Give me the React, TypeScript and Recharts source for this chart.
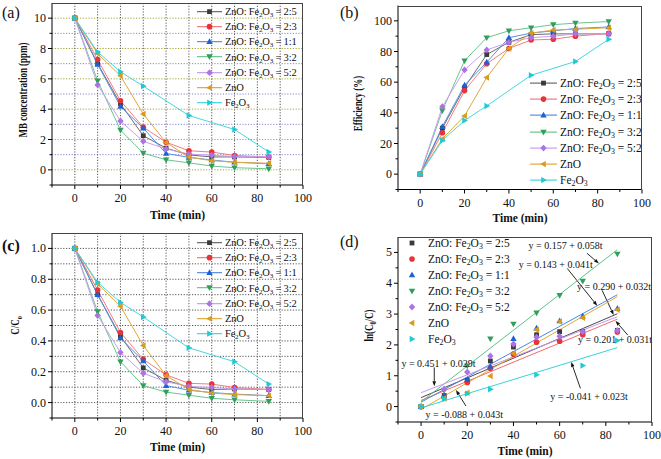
import React from 'react'
import {
  LineChart,
  Line,
  ScatterChart,
  Scatter,
  XAxis,
  YAxis,
  CartesianGrid,
  ReferenceLine,
  ReferenceDot,
  Legend,
} from 'recharts'

const FONT = '"Liberation Serif", "Times New Roman", Times, serif'

const times = [0, 10, 20, 30, 40, 50, 60, 70, 85]
const ratios = ['2:5', '2:3', '1:1', '3:2', '5:2']
const markerColors = ['#3b3b3b', '#ea3238', '#1d62d4', '#2f9f5c', '#ad72e3', '#d99b1f', '#1fcad5']
const lineColors = ['#6a6a6a', '#f27c80', '#5a8fe2', '#6cc58f', '#c7a0ee', '#dfa83a', '#45d7df']
const markerShapes = ['square', 'circle', 'up', 'down', 'diamond', 'left', 'right']

// (a) MB concentration (ppm)
const mbConc: (number | null)[][] = [
  [10, 7.0, 4.35, 2.25, 1.43, 0.98, 0.85, 0.85, 0.82],
  [10, 7.27, 4.55, 2.81, 1.82, 1.26, 1.17, 0.95, 0.84],
  [10, 6.95, 4.18, 2.75, 1.08, 0.82, 0.65, 0.5, 0.4],
  [10, 5.87, 2.62, 1.1, 0.66, 0.46, 0.25, 0.14, 0.07],
  [10, 5.6, 3.22, 1.88, 1.38, 1.04, 0.96, 0.88, 0.85],
  [10, 7.66, 6.2, 3.68, 1.8, 0.84, 0.6, 0.5, 0.43],
  [10, 7.77, 6.47, 5.52, null, 3.58, null, 2.66, 1.18],
]

// (b) efficiency (%)
const efficiency: (number | null)[][] = [
  [0, 30, 56.5, 78, 86, 91, 91.5, 91.5, 91.5],
  [0, 27, 54.5, 72, 82, 87.5, 88, 90, 91.8],
  [0, 31, 58, 73, 89, 92, 93.5, 95, 96],
  [0, 41.5, 74, 89, 93.5, 95.5, 97.5, 98.5, 99.5],
  [0, 44, 68, 81, 86, 89, 90, 91.5, 91.5],
  [0, 23, 38, 63, 82, 92, 94, 94.5, 95.5],
  [0, 22, 35, 44.5, null, 64.5, null, 73.5, 88],
]

// (c) C/C0
const ratio: (number | null)[][] = [
  [1, 0.7, 0.43, 0.225, 0.145, 0.1, 0.085, 0.088, 0.085],
  [1, 0.73, 0.455, 0.28, 0.18, 0.125, 0.12, 0.098, 0.085],
  [1, 0.7, 0.42, 0.27, 0.11, 0.08, 0.065, 0.055, 0.045],
  [1, 0.59, 0.265, 0.11, 0.068, 0.048, 0.028, 0.018, 0.008],
  [1, 0.565, 0.325, 0.19, 0.135, 0.105, 0.098, 0.088, 0.085],
  [1, 0.77, 0.625, 0.37, 0.175, 0.085, 0.062, 0.052, 0.045],
  [1, 0.78, 0.65, 0.555, null, 0.355, null, 0.265, 0.12],
]

// (d) ln(C0/C) points and linear fits (value at t=0 and t=85)
const lnRatio: (number | null)[][] = [
  [0, 0.36, 0.85, 1.48, 1.93, 2.33, 2.43, 2.43, 2.47],
  [0, 0.31, 0.78, 1.24, 1.7, 2.09, 2.12, 2.33, 2.42],
  [0, 0.36, 0.87, 1.3, 2.2, 2.54, 2.78, 2.93, 3.18],
  [0, 0.53, 1.32, 2.2, 2.68, 3.04, 3.61, 4.07, 4.95],
  [0, 0.57, 1.12, 1.64, 2.03, 2.25, 2.28, 2.43, 2.47],
  [0, 0.26, 0.45, 0.99, 1.72, 2.49, 2.76, 2.88, 3.14],
  [0, 0.25, 0.42, 0.56, null, 1.03, null, 1.33, 2.14],
]
const fitTimes = [0, 85]
const fitStart = [0.29, 0.201, 0.143, 0.157, 0.451, -0.088, -0.041]
const fitEnd = [3.01, 2.836, 3.628, 5.087, 2.916, 3.567, 1.914]
const fitColors = ['#4a4a4a', '#f26a6e', '#4d86e4', '#5cc486', '#c39aee', '#e3a834', '#38d3dc']
const fitNotes = [
  'y = 0.290 + 0.032t',
  'y = 0.201 + 0.031t',
  'y = 0.143 + 0.041t',
  'y = 0.157 + 0.058t',
  'y = 0.451 + 0.029t',
  'y = -0.088 + 0.043t',
  'y = -0.041 + 0.023t',
]
// text centre and arrow (from -> tip), in data units of panel (d)
const noteLayout = [
  { tx: 83.6, ty: 3.91, x1: 78.4, y1: 3.77, x2: 83.4, y2: 2.97 },
  { tx: 84.0, ty: 2.18, x1: 89.5, y1: 2.32, x2: 84.2, y2: 2.78 },
  { tx: 58.3, ty: 4.62, x1: 63.3, y1: 4.48, x2: 76.3, y2: 3.27 },
  { tx: 62.6, ty: 5.22, x1: 71.9, y1: 4.97, x2: 77, y2: 4.64 },
  { tx: 7.5, ty: 1.4, x1: 5.7, y1: 1.27, x2: 5.7, y2: 0.66 },
  { tx: 18.7, ty: -0.25, x1: 19.4, y1: 0.02, x2: 15.1, y2: 0.54 },
  { tx: 72.7, ty: 0.34, x1: 69, y1: 0.59, x2: 65, y2: 1.45 },
]

const xTicks = [-10, 0, 10, 20, 30, 40, 50, 60, 70, 80, 90, 100]
const xLabels = [0, 20, 40, 60, 80, 100]
const xDomain: [number, number] = [-10, 100]
const gridX = [0, 10, 20, 30, 40, 50, 60, 70, 80, 90]

const isIn = (list: number[], v: number) => list.some((l) => Math.abs(l - v) < 1e-6)

function Marker({ cx, cy, shape, fill }: { cx: number; cy: number; shape: string; fill: string }) {
  switch (shape) {
    case 'square':
      return <rect x={cx - 2.4} y={cy - 2.4} width={4.8} height={4.8} fill={fill} />
    case 'circle':
      return <circle cx={cx} cy={cy} r={2.8} fill={fill} />
    case 'up':
      return <polygon points={`${cx},${cy - 3.4} ${cx + 3.2},${cy + 2.3} ${cx - 3.2},${cy + 2.3}`} fill={fill} />
    case 'down':
      return <polygon points={`${cx},${cy + 3.4} ${cx + 3.2},${cy - 2.3} ${cx - 3.2},${cy - 2.3}`} fill={fill} />
    case 'diamond':
      return <polygon points={`${cx},${cy - 3.4} ${cx + 3.2},${cy} ${cx},${cy + 3.4} ${cx - 3.2},${cy}`} fill={fill} />
    case 'left':
      return <polygon points={`${cx - 3.4},${cy} ${cx + 2.3},${cy - 3.2} ${cx + 2.3},${cy + 3.2}`} fill={fill} />
    default:
      return <polygon points={`${cx + 3.4},${cy} ${cx - 2.3},${cy - 3.2} ${cx - 2.3},${cy + 3.2}`} fill={fill} />
  }
}

const Sub = ({ children }: { children: React.ReactNode }) => (
  <span style={{ fontSize: '0.68em', verticalAlign: '-0.3em', lineHeight: 0 }}>{children}</span>
)

function seriesText(i: number) {
  if (i < ratios.length)
    return (
      <>
        ZnO: Fe<Sub>2</Sub>O<Sub>3</Sub> = {ratios[i]}
      </>
    )
  if (i === 5) return <>ZnO</>
  return (
    <>
      Fe<Sub>2</Sub>O<Sub>3</Sub>
    </>
  )
}

interface LegendCfg {
  left: number
  top: number
  rowH: number
  fontSize: number
  spacing: number
  sampleW: number
  gap: number
  withLine: boolean
}

function LegendBox({ cfg }: { cfg: LegendCfg }) {
  return (
    <div style={{ fontFamily: FONT, fontSize: cfg.fontSize, letterSpacing: cfg.spacing, color: '#111' }}>
      {markerColors.map((c, i) => (
        <div key={i} style={{ display: 'flex', alignItems: 'center', height: cfg.rowH, whiteSpace: 'nowrap' }}>
          <svg width={cfg.sampleW} height={cfg.rowH} style={{ flex: 'none' }}>
            {cfg.withLine && (
              <line x1={0} x2={cfg.sampleW} y1={cfg.rowH / 2} y2={cfg.rowH / 2} stroke={lineColors[i]} strokeWidth={1.2} />
            )}
            <Marker cx={cfg.sampleW / 2} cy={cfg.rowH / 2} shape={markerShapes[i]} fill={c} />
          </svg>
          <span style={{ marginLeft: cfg.gap, fontFamily: FONT }}>{seriesText(i)}</span>
        </div>
      ))}
    </div>
  )
}

function xTick(p: any) {
  const v = p.payload.value
  const major = isIn(xLabels, v)
  return (
    <g>
      <line x1={p.x} x2={p.x} y1={p.y} y2={p.y + (major ? 4 : 2.5)} stroke="#000" strokeWidth={1} />
      {major && (
        <text x={p.x} y={p.y + 17} textAnchor="middle" fontSize={12} fontFamily={FONT} fill="#111">
          {v}
        </text>
      )}
    </g>
  )
}

function makeYTick(labels: number[], fmt: (v: number) => string) {
  return (p: any) => {
    const v = p.payload.value
    const major = isIn(labels, v)
    return (
      <g>
        <line x1={p.x} x2={p.x - (major ? 4 : 2.5)} y1={p.y} y2={p.y} stroke="#000" strokeWidth={1} />
        {major && (
          <text x={p.x - 6} y={p.y + 4} textAnchor="end" fontSize={12} fontFamily={FONT} fill="#111">
            {fmt(v)}
          </text>
        )}
      </g>
    )
  }
}

interface PanelCfg {
  left: number
  top: number
  width: number
  height: number
  mTop: number
  mRight: number
  yWidth: number
  xHeight: number
  yDomain: [number, number]
  yTicks: number[]
  yLabels: number[]
  fmt: (v: number) => string
  tag: string
  tagLeft: number
  tagTop: number
  tagBold?: boolean
  xTitleY: number
  yTitleX: number
  yTitleDy: number
  yTitle: React.ReactNode
  legend: LegendCfg
}

// panel tag, axis titles and the dark grey top / right edges of the plot box
function Frame({ cfg }: { cfg: PanelCfg }) {
  const plotH = cfg.height - cfg.mTop - cfg.xHeight
  const plotW = cfg.width - cfg.yWidth - cfg.mRight
  const cy = cfg.mTop + plotH / 2 + cfg.yTitleDy
  const top = Math.round(cfg.mTop)
  const right = Math.round(cfg.yWidth + plotW)
  return (
    <>
      <div
        style={{
          position: 'absolute',
          left: cfg.yWidth,
          top: top,
          width: right - cfg.yWidth,
          height: 1,
          background: '#444',
          pointerEvents: 'none',
        }}
      />
      <div
        style={{
          position: 'absolute',
          left: right - 1,
          top: top,
          width: 1,
          height: plotH,
          background: '#444',
          pointerEvents: 'none',
        }}
      />
      <div
        style={{
          position: 'absolute',
          left: cfg.tagLeft,
          top: cfg.tagTop,
          fontFamily: FONT,
          fontSize: 16,
          lineHeight: '16px',
          fontWeight: cfg.tagBold ? 'bold' : 'normal',
          color: '#111',
        }}
      >
        {cfg.tag}
      </div>
      <svg
        width={cfg.width}
        height={cfg.height}
        style={{ position: 'absolute', left: 0, top: 0, pointerEvents: 'none' }}
      >
        <text
          x={cfg.yWidth + plotW / 2}
          y={cfg.xTitleY}
          textAnchor="middle"
          fontWeight="bold"
          fontSize={11.5}
          fontFamily={FONT}
          fill="#111"
        >
          Time (min)
        </text>
        <text
          transform={`translate(${cfg.yTitleX},${cy}) rotate(-90) scale(0.78,1)`}
          textAnchor="middle"
          fontWeight="bold"
          fontSize={11.5}
          fontFamily={FONT}
          fill="#111"
        >
          {cfg.yTitle}
        </text>
      </svg>
    </>
  )
}

function buildRows(values: (number | null)[][]) {
  return times.map((t, i) => {
    const row: Record<string, number | null> = { t }
    values.forEach((arr, s) => {
      row[`s${s}`] = arr[i]
    })
    return row
  })
}

interface GridCfg {
  yValues: number[]
  colorOf: (index: number) => string
}

function LinePanel({ cfg, values, grid }: { cfg: PanelCfg; values: (number | null)[][]; grid?: GridCfg }) {
  const rows = buildRows(values)
  const lg = cfg.legend
  return (
    <div style={{ position: 'absolute', left: cfg.left, top: cfg.top, width: cfg.width, height: cfg.height }}>
      <LineChart
        width={cfg.width}
        height={cfg.height}
        data={rows}
        margin={{ top: cfg.mTop, right: cfg.mRight, bottom: 0, left: 0 }}
      >
        {grid && (
          <CartesianGrid
            verticalValues={gridX}
            horizontalValues={grid.yValues}
            vertical={(p: any) => (
              <line
                key={p.key}
                x1={p.x1}
                x2={p.x2}
                y1={p.y1}
                y2={p.y2}
                stroke="#555"
                strokeWidth={1}
                strokeDasharray="1.2 1.6"
              />
            )}
            horizontal={(p: any) => (
              <line
                key={p.key}
                x1={p.x1}
                x2={p.x2}
                y1={p.y1}
                y2={p.y2}
                stroke={grid.colorOf(p.index)}
                strokeWidth={1}
                strokeDasharray="1.2 1.6"
              />
            )}
          />
        )}
        <XAxis
          type="number"
          dataKey="t"
          domain={xDomain}
          ticks={xTicks}
          interval={0}
          allowDataOverflow
          height={cfg.xHeight}
          tickSize={0}
          tickMargin={0}
          tickLine={false}
          tick={xTick}
          axisLine={{ stroke: '#000' }}
        />
        <YAxis
          type="number"
          domain={cfg.yDomain}
          ticks={cfg.yTicks}
          interval={0}
          allowDataOverflow
          width={cfg.yWidth}
          tickSize={0}
          tickMargin={0}
          tickLine={false}
          tick={makeYTick(cfg.yLabels, cfg.fmt)}
          axisLine={{ stroke: '#000' }}
        />
        {values.map((_, s) => (
          <Line
            key={s}
            type="linear"
            dataKey={`s${s}`}
            stroke={lineColors[s]}
            strokeWidth={1}
            connectNulls
            isAnimationActive={false}
            activeDot={false}
            dot={(p: any) =>
              p.cx == null || p.cy == null || p.value == null ? (
                <g key={`d${s}-${p.index}`} />
              ) : (
                <Marker key={`d${s}-${p.index}`} cx={p.cx} cy={p.cy} shape={markerShapes[s]} fill={markerColors[s]} />
              )
            }
          />
        ))}
        <Legend
          layout="vertical"
          align="center"
          verticalAlign="middle"
          wrapperStyle={{ left: lg.left, top: lg.top, width: 140, height: 'auto' }}
          content={() => <LegendBox cfg={lg} />}
        />
      </LineChart>
      <Frame cfg={cfg} />
    </div>
  )
}

const fmtInt = (v: number) => String(v)

const cfgA: PanelCfg = {
  left: 0,
  top: 0,
  width: 330,
  height: 229,
  mTop: 3,
  mRight: 27,
  yWidth: 52,
  xHeight: 44,
  yDomain: [-1, 11],
  yTicks: [-1, 0, 1, 2, 3, 4, 5, 6, 7, 8, 9, 10],
  yLabels: [0, 2, 4, 6, 8, 10],
  fmt: fmtInt,
  tag: '(a)',
  tagLeft: 2,
  tagTop: 5,
  xTitleY: 219,
  yTitleX: 27,
  yTitleDy: -4,
  yTitle: 'MB concentration (ppm)',
  legend: { left: 197, top: 3.5, rowH: 15.3, fontSize: 10.5, spacing: -0.2, sampleW: 25, gap: 3, withLine: true },
}

const cfgB: PanelCfg = {
  left: 330,
  top: 0,
  width: 331,
  height: 229,
  mTop: 5.5,
  mRight: 19,
  yWidth: 68,
  xHeight: 39.5,
  yDomain: [-10, 110],
  yTicks: [-10, 0, 10, 20, 30, 40, 50, 60, 70, 80, 90, 100],
  yLabels: [0, 20, 40, 60, 80, 100],
  fmt: fmtInt,
  tag: '(b)',
  tagLeft: 10,
  tagTop: 5,
  xTitleY: 222,
  yTitleX: 32,
  yTitleDy: 6,
  yTitle: 'Efficiency (%)',
  legend: { left: 200, top: 75, rowH: 16.2, fontSize: 11.5, spacing: 0, sampleW: 27, gap: 3, withLine: true },
}

const cfgC: PanelCfg = {
  left: 0,
  top: 229,
  width: 330,
  height: 230,
  mTop: 4,
  mRight: 27,
  yWidth: 52,
  xHeight: 41,
  yDomain: [-0.1, 1.1],
  yTicks: [-0.1, 0, 0.1, 0.2, 0.3, 0.4, 0.5, 0.6, 0.7, 0.8, 0.9, 1.0],
  yLabels: [0, 0.2, 0.4, 0.6, 0.8, 1.0],
  fmt: (v) => v.toFixed(1),
  tag: '(c)',
  tagLeft: 2,
  tagTop: 9,
  tagBold: true,
  xTitleY: 222,
  yTitleX: 19,
  yTitleDy: 0,
  yTitle: (
    <>
      C/C
      <tspan dy={3} fontSize={8}>
        o
      </tspan>
    </>
  ),
  legend: { left: 197, top: 5.5, rowH: 15.3, fontSize: 10.5, spacing: -0.2, sampleW: 25, gap: 3, withLine: true },
}

const cfgD: PanelCfg = {
  left: 330,
  top: 229,
  width: 331,
  height: 230,
  mTop: 8,
  mRight: 9,
  yWidth: 68,
  xHeight: 37,
  yDomain: [-0.5, 5.5],
  yTicks: [-0.5, 0, 0.5, 1, 1.5, 2, 2.5, 3, 3.5, 4, 4.5, 5],
  yLabels: [0, 1, 2, 3, 4, 5],
  fmt: fmtInt,
  tag: '(d)',
  tagLeft: 10,
  tagTop: 5,
  xTitleY: 226,
  yTitleX: 43,
  yTitleDy: -4,
  yTitle: (
    <>
      ln(C
      <tspan dy={3} fontSize={8}>
        0
      </tspan>
      <tspan dy={-3}>/C)</tspan>
    </>
  ),
  legend: { left: 75, top: 6, rowH: 16, fontSize: 11.5, spacing: 0, sampleW: 14, gap: 9, withLine: false },
}

function arrowShape(p: any) {
  const { x1, y1, x2, y2 } = p
  const a = Math.atan2(y2 - y1, x2 - x1)
  const len = 5
  const half = 1.8
  const bx = x2 - len * Math.cos(a)
  const by = y2 - len * Math.sin(a)
  const px = -Math.sin(a) * half
  const py = Math.cos(a) * half
  return (
    <g>
      <line x1={x1} y1={y1} x2={bx} y2={by} stroke="#111" strokeWidth={0.9} />
      <polygon points={`${x2},${y2} ${bx + px},${by + py} ${bx - px},${by - py}`} fill="#111" />
    </g>
  )
}

function FitPanel({ cfg }: { cfg: PanelCfg }) {
  const lg = cfg.legend
  return (
    <div style={{ position: 'absolute', left: cfg.left, top: cfg.top, width: cfg.width, height: cfg.height }}>
      <ScatterChart
        width={cfg.width}
        height={cfg.height}
        margin={{ top: cfg.mTop, right: cfg.mRight, bottom: 0, left: 0 }}
      >
        <XAxis
          type="number"
          dataKey="x"
          domain={xDomain}
          ticks={xTicks}
          interval={0}
          allowDataOverflow
          height={cfg.xHeight}
          tickSize={0}
          tickMargin={0}
          tickLine={false}
          tick={xTick}
          axisLine={{ stroke: '#000' }}
        />
        <YAxis
          type="number"
          dataKey="y"
          domain={cfg.yDomain}
          ticks={cfg.yTicks}
          interval={0}
          allowDataOverflow
          width={cfg.yWidth}
          tickSize={0}
          tickMargin={0}
          tickLine={false}
          tick={makeYTick(cfg.yLabels, cfg.fmt)}
          axisLine={{ stroke: '#000' }}
        />
        {fitStart.map((v0, s) => (
          <Scatter
            key={`fit${s}`}
            data={[
              { x: fitTimes[0], y: v0 },
              { x: fitTimes[1], y: fitEnd[s] },
            ]}
            line={{ stroke: fitColors[s], strokeWidth: 1 }}
            shape={() => <g />}
            isAnimationActive={false}
          />
        ))}
        {lnRatio.map((arr, s) => (
          <Scatter
            key={`pts${s}`}
            data={times
              .map((t, i) => ({ x: t, y: arr[i] }))
              .filter((d) => d.y != null)}
            shape={(p: any) => <Marker cx={p.cx} cy={p.cy} shape={markerShapes[s]} fill={markerColors[s]} />}
            isAnimationActive={false}
          />
        ))}
        {noteLayout.map((n, k) => (
          <ReferenceLine
            key={`arr${k}`}
            segment={[
              { x: n.x1, y: n.y1 },
              { x: n.x2, y: n.y2 },
            ]}
            shape={arrowShape}
          />
        ))}
        {noteLayout.map((n, k) => (
          <ReferenceDot
            key={`note${k}`}
            x={n.tx}
            y={n.ty}
            r={1}
            shape={(p: any) => (
              <text x={p.cx} y={p.cy + 3.5} textAnchor="middle" fontSize={10} fontFamily={FONT} fill="#111">
                {fitNotes[k]}
              </text>
            )}
          />
        ))}
        <Legend
          layout="vertical"
          align="center"
          verticalAlign="middle"
          wrapperStyle={{ left: lg.left, top: lg.top, width: 140, height: 'auto' }}
          content={() => <LegendBox cfg={lg} />}
        />
      </ScatterChart>
      <Frame cfg={cfg} />
    </div>
  )
}

// (a): olive dotted lines on even values, blue dotted on odd; (c): grey every 0.1
const gridA: GridCfg = {
  yValues: [0, 1, 2, 3, 4, 5, 6, 7, 8, 9, 10],
  colorOf: (i) => (i % 2 === 0 ? '#a6a63a' : '#8585cc'),
}
const gridC: GridCfg = {
  yValues: [0, 0.1, 0.2, 0.3, 0.4, 0.5, 0.6, 0.7, 0.8, 0.9, 1.0],
  colorOf: () => '#555',
}

export default function App() {
  return (
    <div
      style={{
        position: 'absolute',
        left: 0,
        top: 0,
        width: 661,
        height: 459,
        background: '#fff',
        overflow: 'hidden',
      }}
    >
      <LinePanel cfg={cfgA} values={mbConc} grid={gridA} />
      <LinePanel cfg={cfgB} values={efficiency} />
      <LinePanel cfg={cfgC} values={ratio} grid={gridC} />
      <FitPanel cfg={cfgD} />
    </div>
  )
}
